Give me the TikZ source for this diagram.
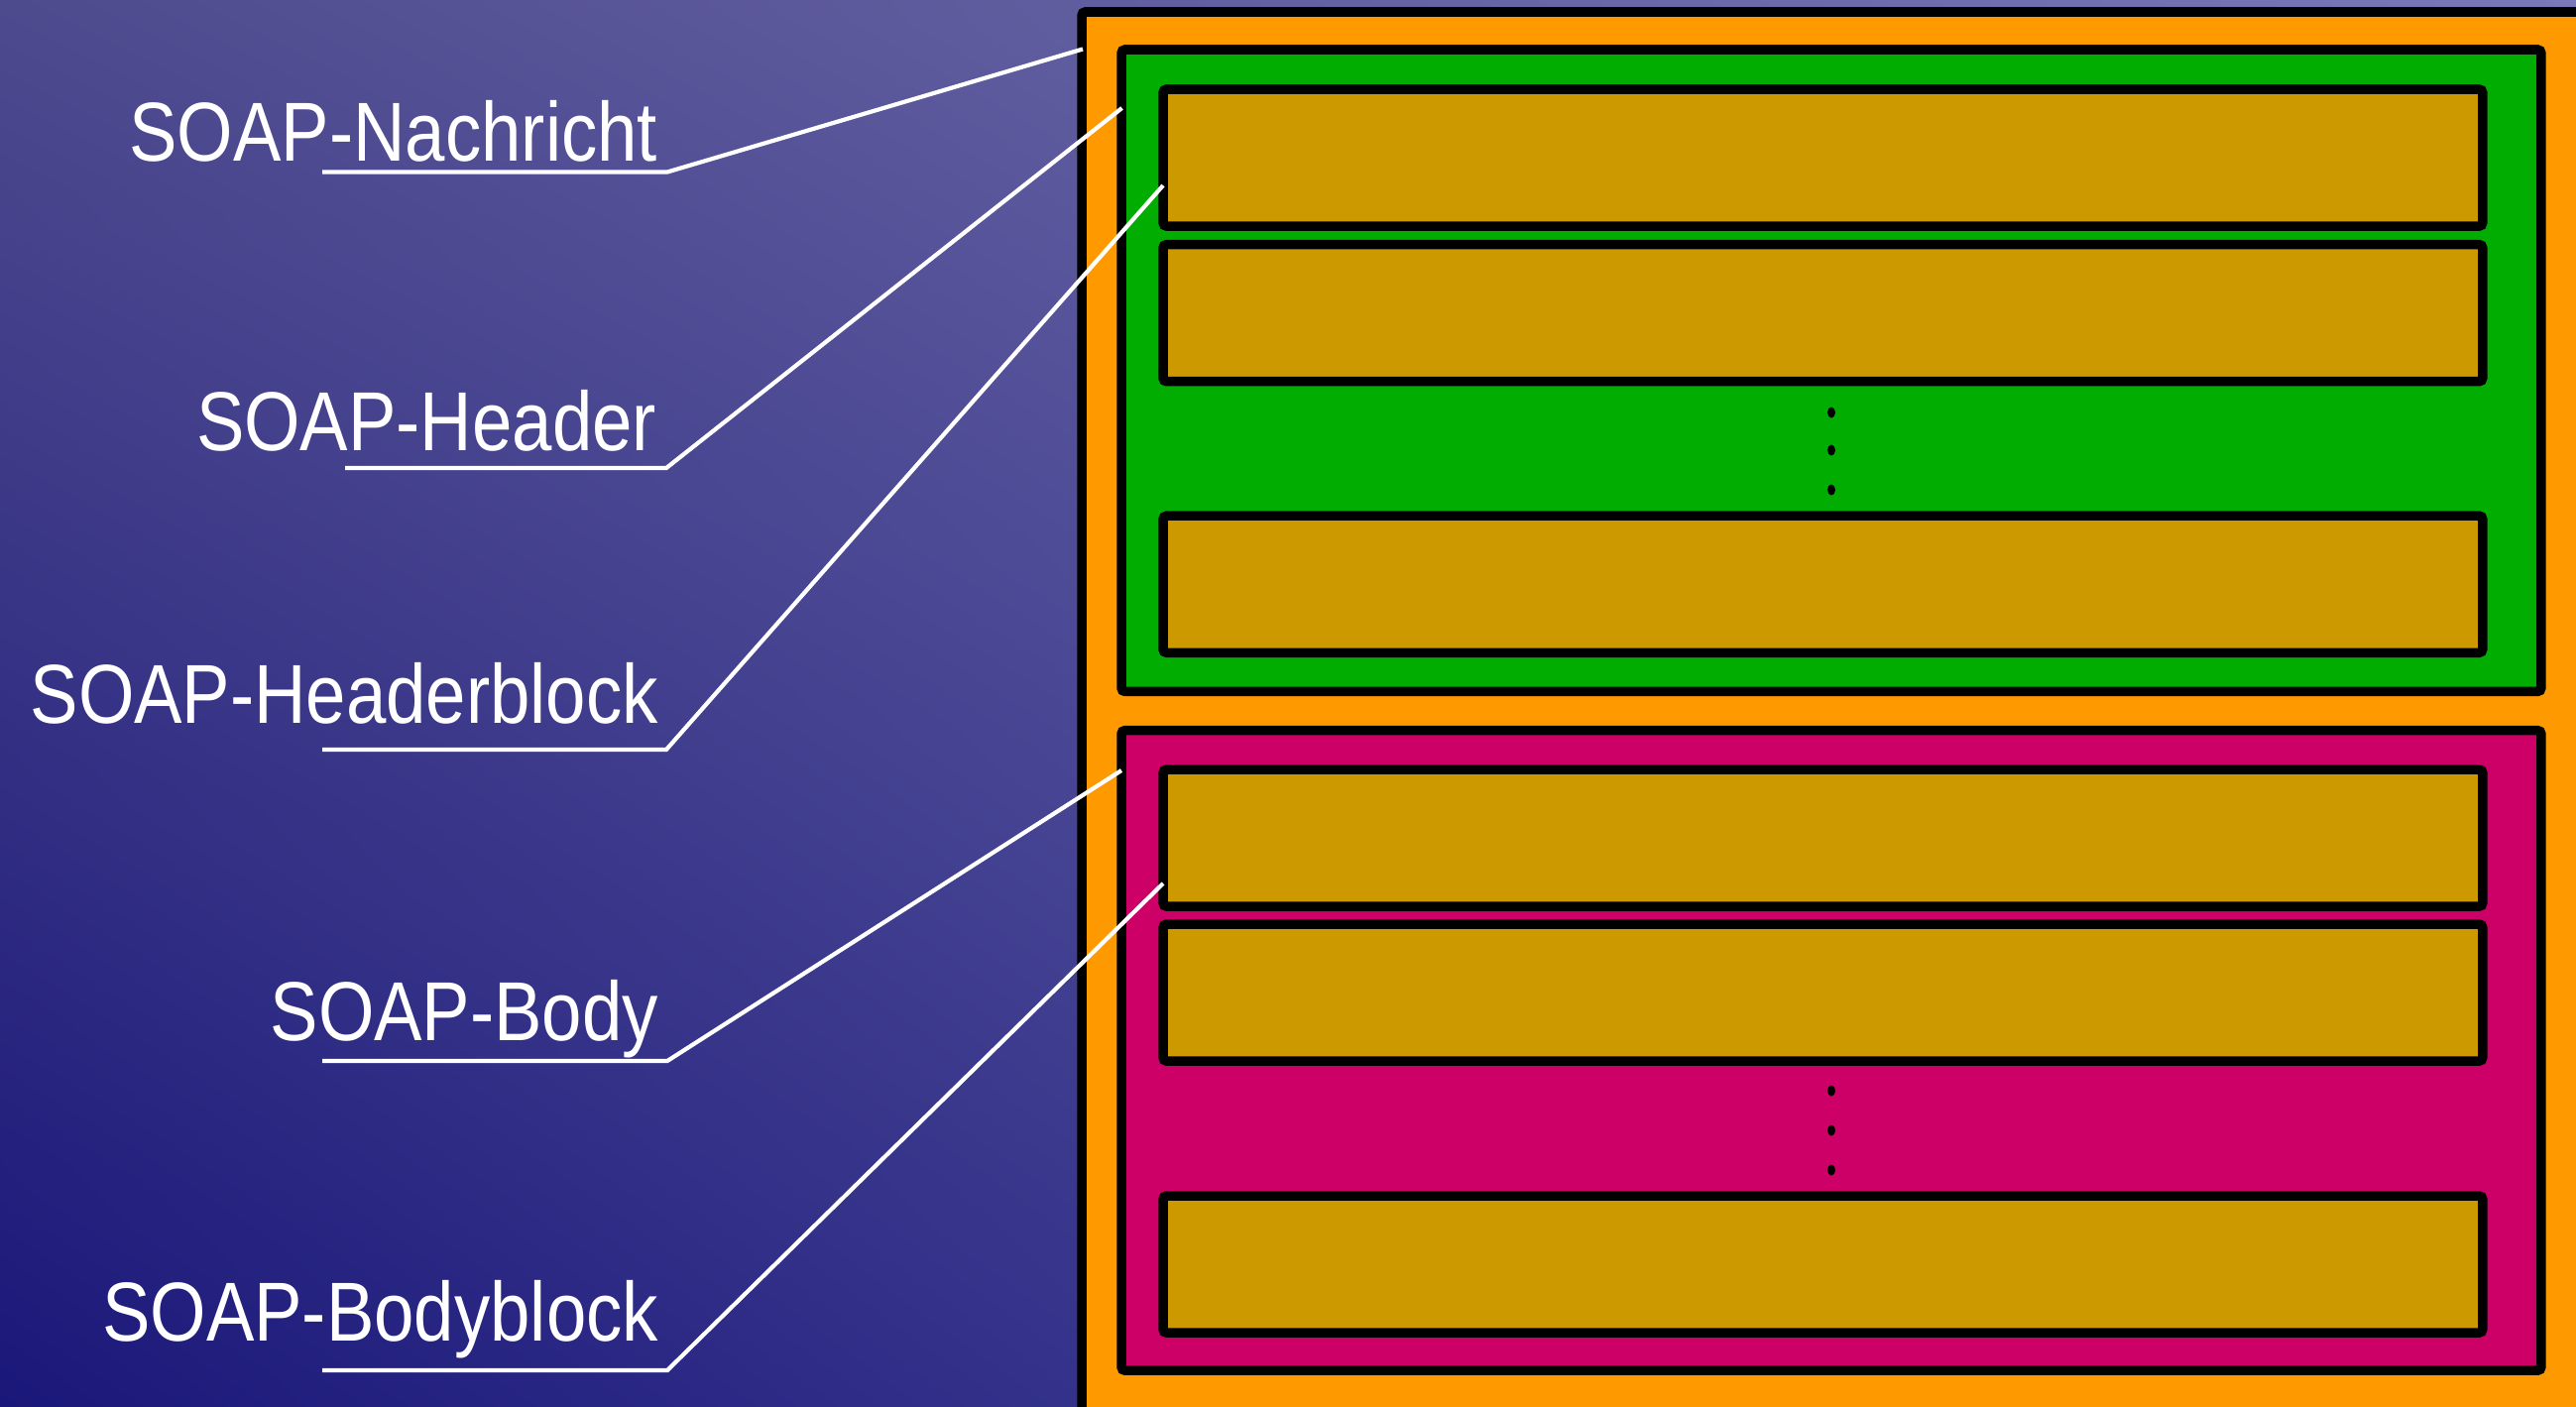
\documentclass[tikz,border=0pt]{standalone}
\usepackage{fontspec}
\usetikzlibrary{shadings}
\newfontfamily\labfont[FakeStretch=0.86]{Liberation Sans}
\definecolor{bgUL}{HTML}{4E4A8E}
\definecolor{bgUR}{HTML}{7A78B8}
\definecolor{bgLL}{HTML}{1A177A}
\definecolor{bgLR}{HTML}{5656A0}
\definecolor{envorange}{HTML}{FF9900}
\definecolor{hdrgreen}{HTML}{00AD00}
\definecolor{bodymag}{HTML}{CC0066}
\definecolor{blockgold}{HTML}{CC9900}
\begin{document}
\begin{tikzpicture}[x=0.01cm,y=-0.01cm,
  box/.style={draw=black, line width=0.095cm, rounded corners=1pt, anchor=north west,
              inner sep=0pt, outer sep=0pt},
  goldbox/.style={box, fill=blockgold, minimum width=13.30cm, minimum height=1.38cm},
  partbox/.style={box, minimum width=14.31cm, minimum height=6.47cm},
  conn/.style={draw=white, line width=0.042cm, line join=miter},
  lab/.style={text=white, font=\labfont\fontsize{24}{28}\selectfont, anchor=base east,
              inner sep=0pt, outer sep=0pt},
  dotmk/.style={fill=black}
]
\useasboundingbox (0,0) rectangle (2598,1418);
\clip (0,0) rectangle (2598,1418);
% background
\shade[upper left=bgUL, upper right=bgUR, lower left=bgLL, lower right=bgLR]
  (0,0) rectangle (2598,1418);

% envelope
\node[box, fill=envorange, minimum width=16.2cm, minimum height=15cm] (env) at (1091,12) {};

% header
\node[partbox, fill=hdrgreen] (hdr) at (1131,50) {};
\node[goldbox] (hb1) at (1173,90) {};
\node[goldbox] (hb2) at (1173,246.6) {};
\node[goldbox] (hb3) at (1173,520.2) {};
\fill[dotmk] (1847,416) ellipse [x radius=0.04cm, y radius=0.055cm];
\fill[dotmk] (1847,454) ellipse [x radius=0.04cm, y radius=0.055cm];
\fill[dotmk] (1847,494) ellipse [x radius=0.04cm, y radius=0.055cm];

% body
\node[partbox, fill=bodymag, minimum height=6.452cm] (bdy) at (1131,736.6) {};
\node[goldbox] (bb1) at (1173,776) {};
\node[goldbox] (bb2) at (1173,932) {};
\node[goldbox] (bb3) at (1173,1206) {};
\fill[dotmk] (1847,1100) ellipse [x radius=0.04cm, y radius=0.055cm];
\fill[dotmk] (1847,1140) ellipse [x radius=0.04cm, y radius=0.055cm];
\fill[dotmk] (1847,1180) ellipse [x radius=0.04cm, y radius=0.055cm];

% labels
\node[lab] (lNach) at (663,162) {SOAP-Nachricht};
\node[lab] (lHdr) at (662,454) {SOAP-Header};
\node[lab] (lHdrB) at (664,729) {SOAP-Headerblock};
\node[lab] (lBody) at (664,1049) {SOAP-Body};
\node[lab] (lBodyB) at (664,1352) {SOAP-Bodyblock};

% connector points
\coordinate (uNach) at (325,173.5);  \coordinate (kNach) at (673,173.5);  \coordinate (pNach) at (1092,49.5);
\coordinate (uHdr) at (348,472);     \coordinate (kHdr) at (672,472);     \coordinate (pHdr) at (1131.5,109);
\coordinate (uHdrB) at (325,756);    \coordinate (kHdrB) at (672,756);    \coordinate (pHdrB) at (1173,187);
\coordinate (uBody) at (325,1070);   \coordinate (kBody) at (673,1070);   \coordinate (pBody) at (1131,777);
\coordinate (uBodyB) at (325,1382);  \coordinate (kBodyB) at (673,1382);  \coordinate (pBodyB) at (1173,891);

\draw[conn] (uNach) -- (kNach) -- (pNach);
\draw[conn] (uHdr) -- (kHdr) -- (pHdr);
\draw[conn] (uHdrB) -- (kHdrB) -- (pHdrB);
\draw[conn] (uBody) -- (kBody) -- (pBody);
\draw[conn] (uBodyB) -- (kBodyB) -- (pBodyB);
\end{tikzpicture}
\end{document}
